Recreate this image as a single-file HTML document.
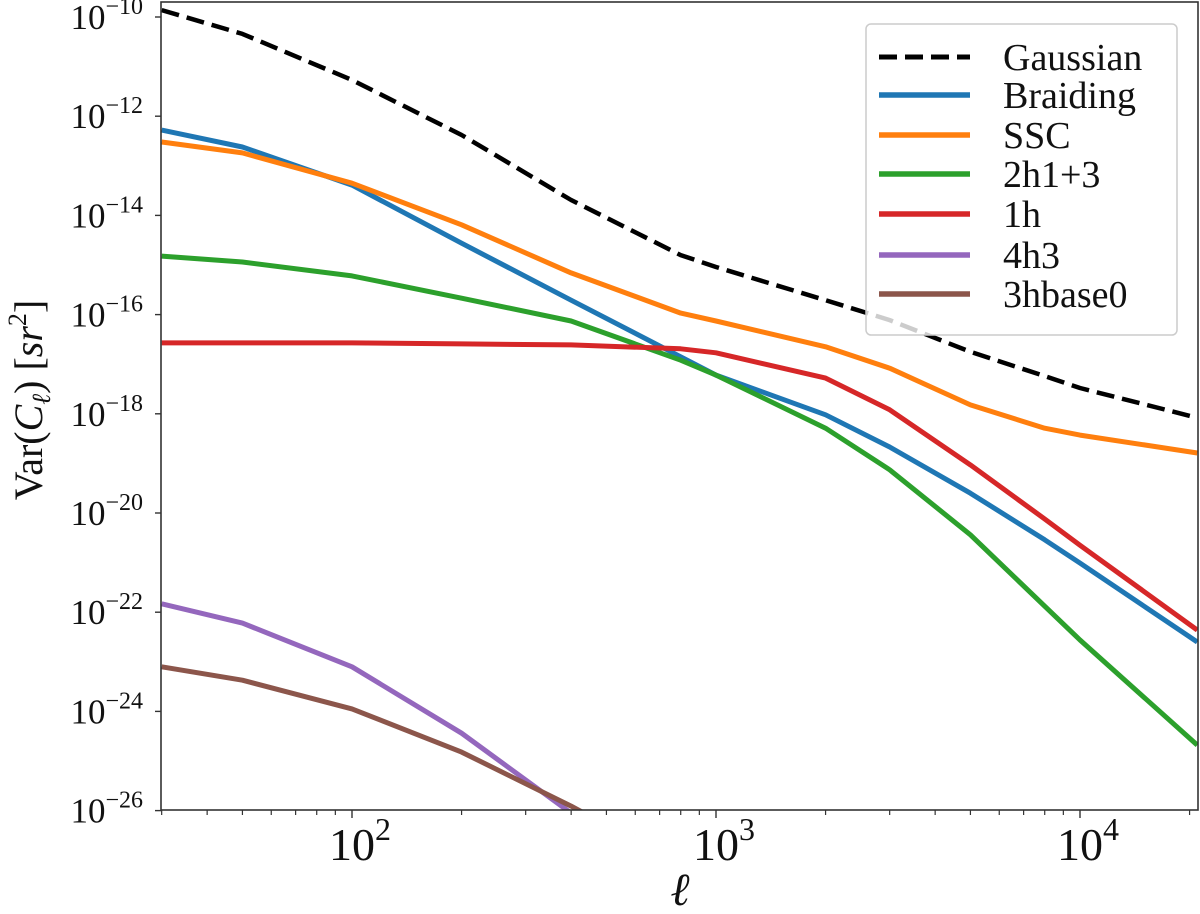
<!DOCTYPE html>
<html><head><meta charset="utf-8"><style>
html,body{margin:0;padding:0;background:#fff;}
svg{display:block;font-family:"Liberation Serif","DejaVu Serif",serif;}
</style></head><body>
<svg id="chart" width="1200" height="914" viewBox="0 0 1200 914" xmlns="http://www.w3.org/2000/svg">
<defs><clipPath id="plotclip"><rect x="161" y="2" width="1037" height="808"/></clipPath></defs>
<rect x="0" y="0" width="1200" height="914" fill="#fff"/>
<g id="series" clip-path="url(#plotclip)"></g>
<g id="axes"></g>
<g id="legend"></g>
</svg>
<script>
const ells = [30, 50, 100, 200, 400, 800, 1000, 2000, 3000, 5000, 8000, 10000, 21000];
const gaussian = [-9.86, -10.34, -11.27, -12.38, -13.69, -14.80, -15.04, -15.71, -16.11, -16.75, -17.24, -17.48, -18.08];
const braiding = [-12.28, -12.62, -13.39, -14.56, -15.71, -16.85, -17.22, -18.02, -18.67, -19.60, -20.54, -21.01, -22.60];
const ssc = [-12.52, -12.74, -13.35, -14.19, -15.16, -15.97, -16.13, -16.65, -17.08, -17.82, -18.29, -18.43, -18.79];
const twoH13 = [-14.82, -14.94, -15.22, -15.67, -16.13, -16.92, -17.22, -18.29, -19.13, -20.44, -21.88, -22.56, -24.68];
const oneH = [-16.57, -16.57, -16.57, -16.59, -16.61, -16.69, -16.77, -17.28, -17.92, -19.03, -20.12, -20.65, -22.36];
const fourH3 = [-21.83, -22.22, -23.10, -24.44, -26.05, -28.0, null, null, null, null, null, null, null];
const threeHbase0 = [-23.10, -23.37, -23.95, -24.82, -25.91, -27.1, null, null, null, null, null, null, null];
const seriesNames = ["Gaussian", "Braiding", "SSC", "2h1+3", "1h", "4h3", "3hbase0"];
const seriesColors = ["#000000", "#1f77b4", "#ff7f0e", "#2ca02c", "#d62728", "#9467bd", "#8c564b"];
const yTickExps = [-10, -12, -14, -16, -18, -20, -22, -24, -26];
const xTickExps = [2, 3, 4];

const NS = "http://www.w3.org/2000/svg";
function xScale(ell){ return 352 + (Math.log10(ell) - 2) * 364; }
function yScale(logv){ return 17 + (-10 - logv) * 49.6; }
function mk(tag, attrs, parent){ const e = document.createElementNS(NS, tag); for (const k in attrs) e.setAttribute(k, attrs[k]); parent.appendChild(e); return e; }

const gS = document.getElementById("series");
const allSeries = [gaussian, braiding, ssc, twoH13, oneH, fourH3, threeHbase0];
const keys = ["gaussian", "braiding", "ssc", "2h1-3", "1h", "4h3", "3hbase0"];
[1,2,3,4,5,6,0].forEach(i => {
  const vals = allSeries[i];
  const pts = [];
  vals.forEach((v, j) => { if (v !== null) pts.push(xScale(ells[j]).toFixed(1) + "," + yScale(v).toFixed(1)); });
  const pl = mk("polyline", {points: pts.join(" "), fill: "none", stroke: seriesColors[i], "stroke-width": i === 0 ? 4.5 : 5, "stroke-linejoin": "round"}, gS);
  if (i === 0) pl.setAttribute("stroke-dasharray", "18,8");
  
  
});

const gA = document.getElementById("axes");
const frame = mk("rect", {x: 161, y: 2, width: 1037, height: 808, fill: "none", stroke: "#333", "stroke-width": 1.6}, gA);


yTickExps.forEach(e => {
  const y = yScale(e);
  mk("line", {x1: 155, x2: 161, y1: y, y2: y, stroke: "#333", "stroke-width": 1.4}, gA);
  const t = mk("text", {x: 143, y: y + 12, "text-anchor": "end", "font-size": 35, fill: "#111"}, gA);
  
  
  const b = document.createElementNS(NS, "tspan"); b.textContent = "10"; t.appendChild(b);
  const s = document.createElementNS(NS, "tspan"); s.setAttribute("dy", "-15"); s.setAttribute("font-size", "24"); s.textContent = "\u2212" + Math.abs(e); t.appendChild(s);
});
for (let d = 1; d <= 4; d++) for (let m = 2; m <= 9; m++) {
  const ell = m * Math.pow(10, d);
  if (ell < 30 || ell > 21000) continue;
  const x = xScale(ell);
  mk("line", {x1: x, x2: x, y1: 810, y2: 815, stroke: "#333", "stroke-width": 1.2}, gA);
}
xTickExps.forEach(e => {
  const x = xScale(Math.pow(10, e));
  mk("line", {x1: x, x2: x, y1: 810, y2: 818, stroke: "#333", "stroke-width": 1.4}, gA);
  const t = mk("text", {x: x + 8, y: 860, "text-anchor": "middle", "font-size": 46, fill: "#111"}, gA);
  
  
  const b = document.createElementNS(NS, "tspan"); b.textContent = "10"; t.appendChild(b);
  const s = document.createElementNS(NS, "tspan"); s.setAttribute("dy", "-20"); s.setAttribute("font-size", "32"); s.textContent = String(e); t.appendChild(s);
});
const xl = mk("text", {x: 680, y: 905, "text-anchor": "middle", "font-size": 46, "font-style": "italic", fill: "#111"}, gA);
xl.textContent = "\u2113";


const yl = mk("text", {x: 0, y: 0, "text-anchor": "middle", "font-size": 40, fill: "#111", transform: "translate(42,400) rotate(-90)"}, gA);
yl.innerHTML = 'Var(<tspan font-style="italic">C</tspan><tspan font-size="26" dy="8" font-style="italic">\u2113</tspan><tspan dy="-8">) [</tspan><tspan font-style="italic">sr</tspan><tspan font-size="26" dy="-16">2</tspan><tspan dy="16">]</tspan>';



const gL = document.getElementById("legend");
const box = mk("rect", {x: 866, y: 24, width: 311, height: 311, rx: 5, fill: "#fff", "fill-opacity": 0.8, stroke: "#ccc", "stroke-width": 1.5}, gL);


const legY = [57, 95, 135, 174, 214, 255, 294];
seriesNames.forEach((n, i) => {
  const y = legY[i];
  const ln = mk("line", {x1: 879, x2: 970, y1: y, y2: y, stroke: seriesColors[i], "stroke-width": i === 0 ? 5 : 5.5}, gL);
  if (i === 0) ln.setAttribute("stroke-dasharray", "18,8");
  
  
  const t = mk("text", {x: 1003, y: y + 13, "font-size": 38, fill: "#111"}, gL);
  t.textContent = n;
  
  
});
</script>
</body></html>
